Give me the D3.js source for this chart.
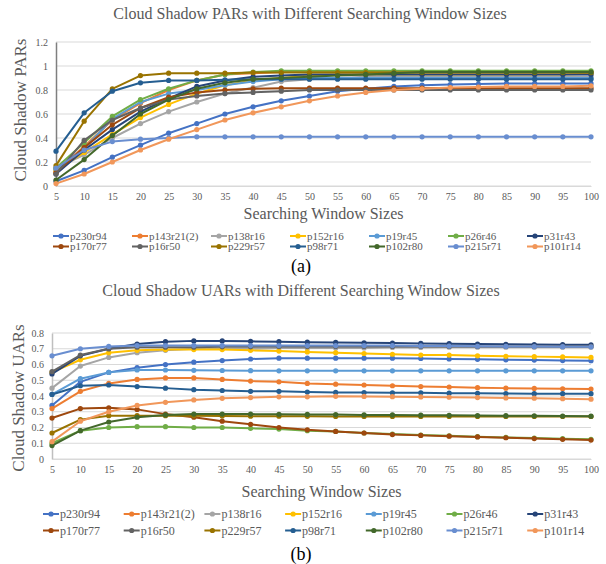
<!DOCTYPE html>
<html>
<head>
<meta charset="utf-8">
<script src="https://cdn.jsdelivr.net/npm/d3@7/dist/d3.min.js"></script>
<style>
  html, body { margin: 0; padding: 0; background: #fff; }
  svg { display: block; font-family: "Liberation Serif", "Times New Roman", serif; }
</style>
</head>
<body>
<svg id="fig" width="606" height="564"></svg>
<script>
// Searching window sizes (category axis)
const windowSizes = [5, 10, 15, 20, 25, 30, 35, 40, 45, 50, 55, 60, 65, 70, 75, 80, 85, 90, 95, 100];

// Scene names, in legend order
const scenes = ["p230r94", "p143r21(2)", "p138r16", "p152r16", "p19r45", "p26r46", "p31r43",
                "p170r77", "p16r50", "p229r57", "p98r71", "p102r80", "p215r71", "p101r14"];

const sceneColors = ["#4472C4", "#ED7D31", "#A5A5A5", "#FFC000", "#5B9BD5", "#70AD47", "#264478",
                     "#9E480E", "#636363", "#997300", "#255E91", "#43682B", "#698ED0", "#F1975A"];

// Cloud shadow PARs per scene
const parP230r94  = [0.04, 0.13, 0.24, 0.34, 0.44, 0.52, 0.60, 0.66, 0.71, 0.75, 0.79, 0.81, 0.83, 0.84, 0.845, 0.85, 0.855, 0.855, 0.855, 0.855];
const parP143r21  = [0.12, 0.33, 0.55, 0.69, 0.80, 0.88, 0.93, 0.94, 0.95, 0.95, 0.95, 0.95, 0.95, 0.95, 0.95, 0.95, 0.95, 0.95, 0.95, 0.95];
const parP138r16  = [0.15, 0.26, 0.40, 0.52, 0.62, 0.70, 0.77, 0.82, 0.87, 0.89, 0.90, 0.91, 0.91, 0.91, 0.91, 0.91, 0.91, 0.91, 0.91, 0.91];
const parP152r16  = [0.13, 0.28, 0.43, 0.57, 0.68, 0.77, 0.84, 0.88, 0.90, 0.92, 0.93, 0.93, 0.93, 0.93, 0.93, 0.93, 0.93, 0.93, 0.93, 0.935];
const parP19r45   = [0.14, 0.31, 0.56, 0.70, 0.77, 0.80, 0.84, 0.87, 0.89, 0.90, 0.90, 0.90, 0.90, 0.90, 0.90, 0.90, 0.90, 0.90, 0.90, 0.90];
const parP26r46   = [0.15, 0.36, 0.58, 0.72, 0.81, 0.88, 0.93, 0.95, 0.96, 0.96, 0.96, 0.96, 0.96, 0.96, 0.96, 0.96, 0.96, 0.96, 0.96, 0.96];
const parP31r43   = [0.10, 0.30, 0.47, 0.62, 0.73, 0.83, 0.88, 0.91, 0.92, 0.93, 0.93, 0.93, 0.93, 0.93, 0.93, 0.93, 0.93, 0.93, 0.93, 0.93];
const parP170r77  = [0.11, 0.32, 0.51, 0.65, 0.74, 0.78, 0.80, 0.81, 0.815, 0.815, 0.815, 0.815, 0.815, 0.815, 0.815, 0.815, 0.815, 0.815, 0.815, 0.815];
const parP16r50   = [0.10, 0.38, 0.55, 0.65, 0.72, 0.75, 0.77, 0.78, 0.79, 0.80, 0.80, 0.80, 0.80, 0.80, 0.80, 0.80, 0.80, 0.80, 0.80, 0.80];
const parP229r57  = [0.17, 0.54, 0.81, 0.92, 0.94, 0.94, 0.94, 0.945, 0.945, 0.945, 0.945, 0.945, 0.945, 0.945, 0.945, 0.945, 0.945, 0.945, 0.945, 0.945];
const parP98r71   = [0.29, 0.61, 0.79, 0.86, 0.88, 0.88, 0.885, 0.89, 0.89, 0.89, 0.89, 0.89, 0.89, 0.89, 0.89, 0.89, 0.89, 0.89, 0.89, 0.89];
const parP102r80  = [0.05, 0.22, 0.42, 0.60, 0.72, 0.81, 0.86, 0.89, 0.90, 0.91, 0.92, 0.93, 0.94, 0.95, 0.95, 0.95, 0.95, 0.95, 0.95, 0.95];
const parP215r71  = [0.15, 0.30, 0.37, 0.39, 0.40, 0.41, 0.41, 0.41, 0.41, 0.41, 0.41, 0.41, 0.41, 0.41, 0.41, 0.41, 0.41, 0.41, 0.41, 0.41];
const parP101r14  = [0.02, 0.10, 0.20, 0.30, 0.39, 0.47, 0.55, 0.61, 0.66, 0.71, 0.75, 0.78, 0.80, 0.81, 0.82, 0.825, 0.83, 0.83, 0.83, 0.835];

// Cloud shadow UARs per scene
const uarP230r94  = [0.34, 0.49, 0.55, 0.58, 0.60, 0.615, 0.625, 0.635, 0.64, 0.64, 0.64, 0.64, 0.64, 0.638, 0.635, 0.633, 0.63, 0.628, 0.625, 0.624];
const uarP143r21  = [0.32, 0.43, 0.48, 0.505, 0.515, 0.515, 0.505, 0.495, 0.49, 0.48, 0.475, 0.47, 0.465, 0.46, 0.457, 0.453, 0.45, 0.448, 0.446, 0.444];
const uarP138r16  = [0.45, 0.59, 0.645, 0.675, 0.69, 0.70, 0.70, 0.70, 0.705, 0.705, 0.705, 0.705, 0.708, 0.708, 0.71, 0.71, 0.71, 0.71, 0.71, 0.71];
const uarP152r16  = [0.55, 0.63, 0.675, 0.69, 0.695, 0.695, 0.695, 0.69, 0.685, 0.68, 0.675, 0.67, 0.665, 0.66, 0.66, 0.655, 0.652, 0.65, 0.648, 0.645];
const uarP19r45   = [0.41, 0.51, 0.55, 0.565, 0.565, 0.563, 0.562, 0.561, 0.56, 0.56, 0.56, 0.56, 0.56, 0.56, 0.56, 0.56, 0.56, 0.56, 0.56, 0.56];
const uarP26r46   = [0.10, 0.18, 0.20, 0.205, 0.205, 0.20, 0.20, 0.195, 0.19, 0.18, 0.175, 0.165, 0.158, 0.152, 0.147, 0.142, 0.137, 0.133, 0.129, 0.125];
const uarP31r43   = [0.54, 0.655, 0.70, 0.73, 0.745, 0.75, 0.75, 0.747, 0.745, 0.742, 0.74, 0.738, 0.736, 0.734, 0.732, 0.73, 0.728, 0.727, 0.726, 0.725];
const uarP170r77  = [0.26, 0.32, 0.325, 0.315, 0.285, 0.265, 0.24, 0.22, 0.20, 0.185, 0.175, 0.165, 0.155, 0.15, 0.145, 0.14, 0.135, 0.13, 0.125, 0.12];
const uarP16r50   = [0.555, 0.66, 0.70, 0.71, 0.71, 0.71, 0.712, 0.712, 0.714, 0.714, 0.715, 0.715, 0.715, 0.715, 0.715, 0.715, 0.715, 0.715, 0.715, 0.715];
const uarP229r57  = [0.165, 0.25, 0.275, 0.275, 0.275, 0.275, 0.273, 0.272, 0.272, 0.271, 0.27, 0.27, 0.27, 0.27, 0.27, 0.27, 0.27, 0.27, 0.27, 0.27];
const uarP98r71   = [0.41, 0.465, 0.47, 0.46, 0.45, 0.44, 0.435, 0.43, 0.43, 0.425, 0.423, 0.422, 0.42, 0.42, 0.418, 0.417, 0.416, 0.415, 0.415, 0.415];
const uarP102r80  = [0.085, 0.18, 0.235, 0.265, 0.28, 0.285, 0.285, 0.285, 0.284, 0.283, 0.282, 0.28, 0.28, 0.278, 0.277, 0.276, 0.275, 0.274, 0.273, 0.272];
const uarP215r71  = [0.655, 0.70, 0.715, 0.72, 0.72, 0.72, 0.72, 0.72, 0.72, 0.72, 0.72, 0.72, 0.72, 0.718, 0.717, 0.716, 0.715, 0.714, 0.713, 0.712];
const uarP101r14  = [0.11, 0.24, 0.30, 0.34, 0.36, 0.375, 0.385, 0.39, 0.395, 0.395, 0.398, 0.397, 0.396, 0.394, 0.392, 0.39, 0.388, 0.386, 0.383, 0.38];

const parSeries = [parP230r94, parP143r21, parP138r16, parP152r16, parP19r45, parP26r46, parP31r43,
                   parP170r77, parP16r50, parP229r57, parP98r71, parP102r80, parP215r71, parP101r14];
const uarSeries = [uarP230r94, uarP143r21, uarP138r16, uarP152r16, uarP19r45, uarP26r46, uarP31r43,
                   uarP170r77, uarP16r50, uarP229r57, uarP98r71, uarP102r80, uarP215r71, uarP101r14];

const parTicks = [0, 0.2, 0.4, 0.6, 0.8, 1, 1.2];
const uarTicks = [0, 0.1, 0.2, 0.3, 0.4, 0.5, 0.6, 0.7, 0.8];

const svg = d3.select("#fig");
const textGray = "#595959";

function drawPanel(cfg) {
  const g = svg.append("g");
  const x = d3.scalePoint().domain(windowSizes).range([cfg.left, cfg.right]);
  const y = d3.scaleLinear().domain([0, cfg.yMax]).range([cfg.bottom, cfg.top]);

  // Title
  g.append("text").attr("x", cfg.titleX).attr("y", cfg.titleY)
    .attr("text-anchor", "middle").attr("fill", textGray)
    .attr("font-size", cfg.titleSize).text(cfg.title);

  // Horizontal gridlines
  g.append("g").selectAll("line").data(cfg.ticks).join("line")
    .attr("x1", cfg.left).attr("x2", cfg.right)
    .attr("y1", d => y(d)).attr("y2", d => y(d))
    .attr("stroke", "#d9d9d9").attr("stroke-width", 1);

  // Y axis
  const yAxis = d3.axisLeft(y).tickValues(cfg.ticks).tickSize(0).tickPadding(8)
    .tickFormat(d => String(d));
  const ya = g.append("g").attr("transform", `translate(${cfg.left},0)`).call(yAxis);
  ya.select(".domain").attr("stroke", cfg.axisColor).attr("stroke-width", 1.5);
  ya.selectAll("text").attr("fill", textGray).attr("font-size", 10)
    .attr("font-family", "Liberation Serif, serif");

  // X axis
  const xAxis = d3.axisBottom(x).tickSize(0).tickPadding(7);
  const xa = g.append("g").attr("transform", `translate(0,${cfg.bottom})`).call(xAxis);
  xa.select(".domain").attr("stroke", "#d9d9d9");
  xa.selectAll("text").attr("fill", textGray).attr("font-size", 10)
    .attr("font-family", "Liberation Serif, serif");

  // Axis titles
  g.append("text").attr("x", (cfg.left + cfg.right) / 2).attr("y", cfg.xTitleY)
    .attr("text-anchor", "middle").attr("fill", textGray).attr("font-size", 16)
    .text("Searching Window Sizes");
  g.append("text")
    .attr("transform", `translate(${cfg.yTitleX},${(cfg.top + cfg.bottom) / 2 + cfg.yTitleShift}) rotate(-90)`)
    .attr("text-anchor", "middle").attr("fill", textGray).attr("font-size", 17)
    .text(cfg.yTitle);

  // Series lines and markers
  const line = d3.line().x((d, i) => x(windowSizes[i])).y(d => y(d));
  cfg.series.forEach((vals, k) => {
    const sg = g.append("g");
    sg.append("path").datum(vals).attr("d", line)
      .attr("fill", "none").attr("stroke", sceneColors[k]).attr("stroke-width", 2)
      .attr("stroke-linejoin", "round");
    sg.selectAll("circle").data(vals).join("circle")
      .attr("cx", (d, i) => x(windowSizes[i])).attr("cy", d => y(d)).attr("r", 2.6)
      .attr("fill", sceneColors[k]);
  });

  // Legend: two rows of seven
  const lg = g.append("g");
  scenes.forEach((name, k) => {
    const col = k % 7, row = Math.floor(k / 7);
    const lx = cfg.legendX + col * cfg.legendStep;
    const ly = cfg.legendY + row * cfg.legendRow;
    lg.append("line").attr("x1", lx).attr("x2", lx + 16).attr("y1", ly).attr("y2", ly)
      .attr("stroke", sceneColors[k]).attr("stroke-width", 2);
    lg.append("circle").attr("cx", lx + 8).attr("cy", ly).attr("r", 2.6).attr("fill", sceneColors[k]);
    lg.append("text").attr("x", lx + 17).attr("y", ly).attr("dy", "0.35em")
      .attr("fill", textGray).attr("font-size", cfg.legendSize).text(name);
  });

  // Panel label
  g.append("text").attr("x", cfg.labelX).attr("y", cfg.labelY)
    .attr("text-anchor", "middle").attr("fill", "#000").attr("font-size", 18)
    .text(cfg.label);
}

drawPanel({
  title: "Cloud Shadow PARs with Different Searching Window Sizes",
  titleX: 310, titleY: 19, titleSize: 16,
  yTitle: "Cloud Shadow PARs", yTitleX: 26, yTitleShift: -4,
  left: 56, right: 591, top: 42, bottom: 186, yMax: 1.2, ticks: parTicks,
  axisColor: "#7f7f7f",
  xTitleY: 219,
  series: parSeries,
  legendX: 53, legendStep: 79, legendY: 236, legendRow: 10.5, legendSize: 11,
  label: "(a)", labelX: 301, labelY: 272
});

drawPanel({
  title: "Cloud Shadow UARs with Different Searching Window Sizes",
  titleX: 301, titleY: 296, titleSize: 16,
  yTitle: "Cloud Shadow UARs", yTitleX: 24, yTitleShift: 2,
  left: 52, right: 591, top: 333, bottom: 459, yMax: 0.8, ticks: uarTicks,
  axisColor: "#bfbfbf",
  xTitleY: 497,
  series: uarSeries,
  legendX: 43, legendStep: 80.7, legendY: 514, legendRow: 16.5, legendSize: 12,
  label: "(b)", labelX: 301, labelY: 560
});
</script>
</body>
</html>
